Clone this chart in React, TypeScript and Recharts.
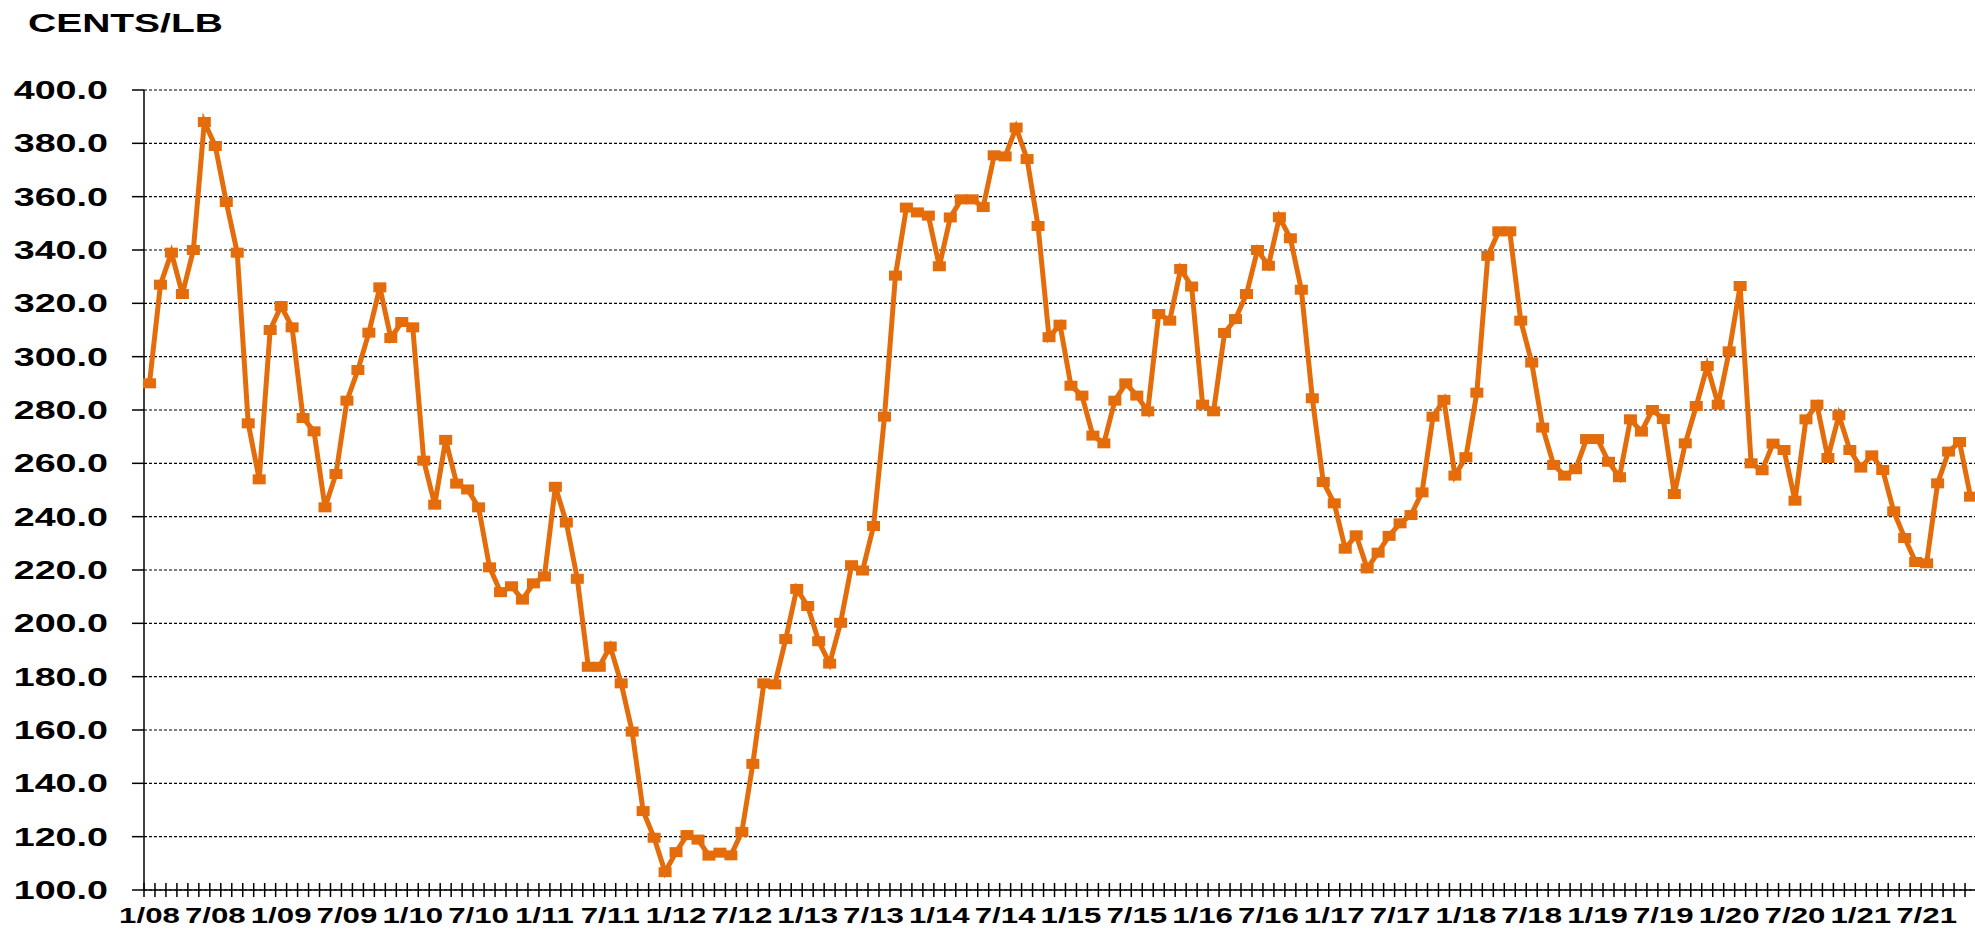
import { CartesianGrid, Line, LineChart, XAxis, YAxis } from 'recharts';

// monthly prices, cents/lb, Jan 2008 .. Nov 2021
const P2008 = [290, 327, 339, 323.5, 340, 388, 379, 358, 339, 275, 254, 310];
const P2009 = [319, 311, 277, 272, 243.5, 256, 283.5, 295, 309, 326, 307, 313];
const P2010 = [311, 261, 244.5, 268.8, 252.4, 250.2, 243.5, 221, 211.7, 213.9, 208.9, 215];
const P2011 = [217.6, 251.2, 237.8, 216.7, 183.7, 183.7, 191.3, 177.5, 159.4, 129.6, 119.6, 106.7];
const P2012 = [114.2, 120.6, 118.9, 112.9, 114, 113, 121.8, 147.3, 177.5, 177.1, 194.1, 212.9];
const P2013 = [206.5, 193.3, 184.9, 200.2, 221.8, 219.8, 236.5, 277.5, 330.4, 355.9, 354.1, 352.9];
const P2014 = [333.9, 352.2, 359, 359, 356.1, 375.5, 375.1, 385.9, 374.1, 349, 307.3, 312];
const P2015 = [289.1, 285.4, 270.4, 267.5, 283.5, 290, 285.4, 279.5, 316, 313.5, 332.9, 326.3];
const P2016 = [282, 279.5, 308.9, 314.1, 323.5, 340, 334.1, 352.3, 344.4, 325.1, 284.4, 253];
const P2017 = [245, 228, 233, 220.6, 226.5, 232.8, 237.5, 240.6, 249.1, 277.5, 283.8, 255.4];
const P2018 = [262.3, 286.5, 337.8, 347, 347, 313.5, 297.8, 273.4, 259.4, 255.4, 257.8, 269.1];
const P2019 = [269.1, 260.6, 254.8, 276.5, 271.9, 280, 276.6, 248.5, 267.5, 281.5, 296.5, 282];
const P2020 = [302, 326.5, 260, 257.4, 267.4, 265, 246, 276.5, 282, 262, 278, 265];
const P2021 = [258.4, 263, 257.5, 242, 232, 223, 222.5, 252.5, 264.4, 268, 247.5];

const YEARS = ['08', '09', '10', '11', '12', '13', '14', '15', '16', '17', '18', '19', '20', '21'];
const PRICES = [
  ...P2008, ...P2009, ...P2010, ...P2011, ...P2012, ...P2013, ...P2014,
  ...P2015, ...P2016, ...P2017, ...P2018, ...P2019, ...P2020, ...P2021,
];
const MONTHS: string[] = [];
YEARS.forEach((yy) => {
  for (let m = 1; m <= 12; m++) MONTHS.push(`${m}/${yy}`);
});

const Y_TICKS = [100, 120, 140, 160, 180, 200, 220, 240, 260, 280, 300, 320, 340, 360, 380, 400];

const data = PRICES.map((price, i) => ({ month: MONTHS[i], price }));

const ORANGE = '#E46C0A';
const FONT = '"Liberation Sans", Arial, sans-serif';
const CHART_W = 1986;
const CHART_H = 933;
const AXIS_W = 144;
const RIGHT = 10;
const STEP = (CHART_W - AXIS_W - RIGHT) / PRICES.length;

function YTick({ x, y, payload }: any) {
  return (
    <text
      transform={`translate(${x},${y + 9}) scale(1.45,1)`}
      textAnchor="end"
      fontSize={26}
      fontWeight="bold"
      fontFamily={FONT}
      fill="#000"
    >
      {Number(payload.value).toFixed(1)}
    </text>
  );
}

function XTick({ x, y, payload, index }: any) {
  const i = payload.index ?? index;
  const edge = x - STEP / 2;
  return (
    <g>
      <line x1={edge} x2={edge} y1={y - 7} y2={y + 7} stroke="#000" strokeWidth={1.5} />
      {i % 6 === 0 && (
        <text
          transform={`translate(${x},${y + 33}) scale(1.42,1)`}
          textAnchor="middle"
          fontSize={22}
          fontWeight="bold"
          fontFamily={FONT}
          fill="#000"
        >
          {payload.value}
        </text>
      )}
    </g>
  );
}

function Square({ cx, cy }: any) {
  if (cx == null || cy == null) return null;
  return <rect x={cx - 6.5} y={cy - 5} width={13} height={10} fill={ORANGE} />;
}

export default function App() {
  return (
    <div
      style={{
        position: 'fixed',
        left: 0,
        top: 0,
        width: 1975,
        height: 933,
        overflow: 'hidden',
        background: '#fff',
      }}
    >
      <svg width={400} height={50} style={{ position: 'absolute', left: 0, top: 0 }}>
        <text
          transform="translate(28,32) scale(1.5,1)"
          fontSize={26}
          fontWeight="bold"
          fontFamily={FONT}
          fill="#000"
        >
          CENTS/LB
        </text>
      </svg>
      <LineChart
        width={CHART_W}
        height={CHART_H}
        data={data}
        margin={{ top: 90, right: RIGHT, bottom: 0, left: 0 }}
      >
        <CartesianGrid vertical={false} stroke="#000" strokeDasharray="3 2" strokeWidth={1.2} />
        <XAxis
          dataKey="month"
          height={43}
          interval={0}
          padding={{ left: STEP / 2, right: STEP / 2 }}
          tickLine={false}
          tickSize={0}
          tickMargin={0}
          axisLine={{ stroke: '#000', strokeWidth: 1.5 }}
          tick={<XTick />}
        />
        <YAxis
          width={AXIS_W}
          domain={[100, 400]}
          ticks={Y_TICKS}
          interval={0}
          tickSize={12}
          tickMargin={24}
          tickLine={{ stroke: '#000', strokeWidth: 1.5 }}
          axisLine={{ stroke: '#000', strokeWidth: 1.5 }}
          tick={<YTick />}
        />
        <Line
          type="linear"
          dataKey="price"
          stroke={ORANGE}
          strokeWidth={5}
          dot={<Square />}
          activeDot={false}
          isAnimationActive={false}
        />
      </LineChart>
    </div>
  );
}
